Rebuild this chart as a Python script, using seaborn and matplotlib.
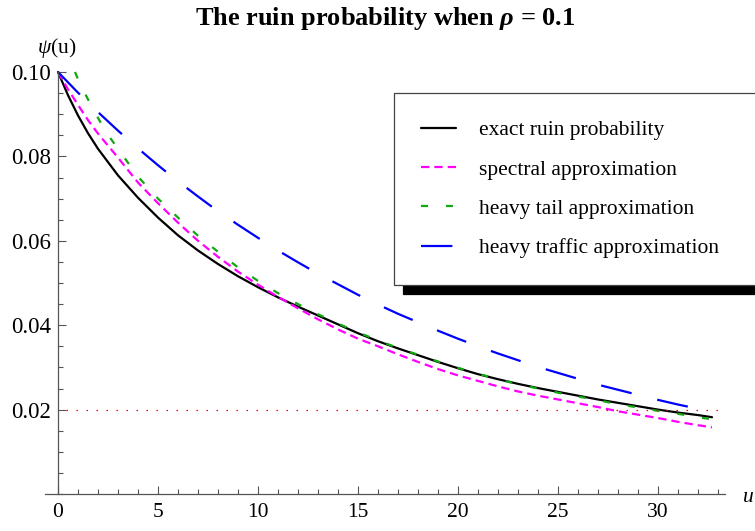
import matplotlib
matplotlib.use("Agg")
import matplotlib.pyplot as plt
from matplotlib.ticker import MultipleLocator, FormatStrFormatter
import seaborn as sns

# values
u_exact = [0, 0.5, 1, 1.5, 2, 3, 4, 5, 6, 7, 8, 9, 10, 11, 12, 13, 14, 15, 16,
           17, 18, 19, 20, 21, 22, 23, 24, 25, 26, 27, 28, 29, 30, 31, 32, 32.7]
psi_exact = [0.1000, 0.0945, 0.0897, 0.0855, 0.0818, 0.0755, 0.0702, 0.0655,
             0.0613, 0.0577, 0.0545, 0.0516, 0.0490, 0.0466, 0.0444, 0.0423,
             0.0402, 0.0381, 0.0362, 0.0345, 0.0329, 0.0313, 0.0298, 0.0284,
             0.0272, 0.0261, 0.0251, 0.0242, 0.0233, 0.0224, 0.0216, 0.0208,
             0.0200, 0.0193, 0.0187, 0.0182]

u_spec = u_exact
psi_spec = [0.1000, 0.0959, 0.0922, 0.0886, 0.0854, 0.0797, 0.0738, 0.0689,
            0.0643, 0.0600, 0.0562, 0.0527, 0.0496, 0.0467, 0.0440, 0.0414,
            0.0390, 0.0368, 0.0350, 0.0331, 0.0313, 0.0296, 0.0281, 0.0268,
            0.0255, 0.0243, 0.0233, 0.0224, 0.0215, 0.0206, 0.0196, 0.0188,
            0.0180, 0.0171, 0.0163, 0.0158]

u_tail = [0.85, 1, 1.5, 2, 2.5, 3, 4, 5, 6, 7, 8, 9, 10, 11, 12, 13, 14, 15,
          16, 17, 18, 19, 20, 21, 22, 23, 24, 25, 26, 27, 28, 29, 30, 31, 32, 32.7]
psi_tail = [0.1000, 0.0983, 0.0935, 0.0891, 0.0851, 0.0818, 0.0752, 0.0700,
            0.0655, 0.0612, 0.0574, 0.0537, 0.0505, 0.0476, 0.0450, 0.0426,
            0.0404, 0.0383, 0.0364, 0.0346, 0.0330, 0.0314, 0.0299, 0.0285,
            0.0272, 0.0260, 0.0250, 0.0240, 0.0231, 0.0222, 0.0213, 0.0205,
            0.0197, 0.0190, 0.0182, 0.0177]

u_traffic = [0, 1, 2, 3, 4, 5, 6, 7, 8, 9, 10, 11, 12, 13, 14, 15, 16, 17, 18,
             19, 20, 21, 22, 23, 24, 25, 26, 27, 28, 29, 30, 31, 32, 32.7]
psi_traffic = [0.1000, 0.0951, 0.0905, 0.0861, 0.0819, 0.0779, 0.0741, 0.0705,
               0.0670, 0.0638, 0.0607, 0.0577, 0.0549, 0.0522, 0.0497, 0.0472,
               0.0449, 0.0427, 0.0407, 0.0387, 0.0368, 0.0350, 0.0333, 0.0317,
               0.0301, 0.0287, 0.0273, 0.0259, 0.0247, 0.0235, 0.0223, 0.0212,
               0.0202, 0.0195]

level = 0.02
level_span = [0.4, 33.0]

labels = ["exact ruin probability", "spectral approximation",
          "heavy tail approximation", "heavy traffic approximation"]
colors = ["black", "#ff00ff", "#12a812", "#0000ff"]
dashes = [None, (6.0, 3.6), (5.0, 13.0), (22.6, 19.0)]

sns.set_theme(style="white")
plt.rcParams["font.family"] = ["Liberation Serif", "DejaVu Serif"]
plt.rcParams["mathtext.fontset"] = "custom"
plt.rcParams["mathtext.rm"] = "Liberation Serif"
plt.rcParams["mathtext.it"] = "Liberation Serif:italic"
plt.rcParams["mathtext.bf"] = "Liberation Serif:bold:italic"
plt.rcParams["lines.scale_dashes"] = False
plt.rcParams["text.color"] = "black"

fig = plt.figure(figsize=(7.55, 5.31), dpi=100)
ax = fig.add_axes([45 / 755, 37 / 531, 680 / 755, 422 / 531])

series = [(u_exact, psi_exact), (u_spec, psi_spec), (u_tail, psi_tail), (u_traffic, psi_traffic)]
for (xs, ys), lab, col, ds in zip(series, labels, colors, dashes):
    sns.lineplot(x=xs, y=ys, ax=ax, color=col, linewidth=1.6, label=lab, legend=False, sort=False)
    ln = ax.lines[-1]
    if ds is not None:
        ln.set_dashes(ds)
    ln.set_clip_on(False)

ax.hlines(level, level_span[0], level_span[1], colors="#ff0000", linewidth=0.9,
          linestyles=(0, (1.1, 6.1)))

ax.set_xlim(-0.65, 33.35)
ax.set_ylim(0, 0.1)
for s in ["top", "right"]:
    ax.spines[s].set_visible(False)
ax.spines["left"].set_position(("data", 0))
ax.spines["bottom"].set_position(("data", 0))
for s in ["left", "bottom"]:
    ax.spines[s].set_color("#555555")
    ax.spines[s].set_linewidth(0.9)

ax.set_xticks([0, 5, 10, 15, 20, 25, 30])
ax.set_yticks([0.02, 0.04, 0.06, 0.08, 0.10])
ax.yaxis.set_major_formatter(FormatStrFormatter("%.2f"))
ax.xaxis.set_minor_locator(MultipleLocator(1))
ax.yaxis.set_minor_locator(MultipleLocator(0.005))
ax.tick_params(which="both", direction="in", color="#555555", width=0.8, labelsize=15.5,
               labelcolor="black", bottom=True, left=True, top=False, right=False)
ax.tick_params(axis="y", labelsize=16.5)
ax.tick_params(which="major", length=5.8)
ax.tick_params(which="minor", length=3.6)
ax.tick_params(axis="x", which="major", pad=6.5)
ax.tick_params(axis="y", which="major", pad=5)
ax.set_xlabel("")
ax.set_ylabel("")

fig.text(385 / 755, 1 - 19 / 531, r"The ruin probability when $\mathbf{\rho}$ = 0.1",
         ha="center", va="center", fontsize=19, fontweight="bold")
fig.text(57 / 755, 1 - 48 / 531, r"$\psi$(u)", ha="center", va="center", fontsize=15.5)
fig.text(748 / 755, 1 - 497 / 531, "u", ha="center", va="center", fontsize=15.5, style="italic")

leg = ax.legend(handles=ax.lines[:4], labels=labels, loc="upper left",
                bbox_to_anchor=(394 / 755, 1 - 93.5 / 531 - 0.1, 0.55, 0.1),
                bbox_transform=fig.transFigure, mode="expand", borderaxespad=0,
                fontsize=15.5, handlelength=1.62, handletextpad=1.1,
                borderpad=1.25, labelspacing=0.89, fancybox=False, framealpha=1,
                edgecolor="#444444",
                shadow={"ox": 6.5, "oy": -6.5, "color": "black", "alpha": 1})
leg.get_frame().set_linewidth(0.9)

fig.savefig("out.png", dpi=100)
